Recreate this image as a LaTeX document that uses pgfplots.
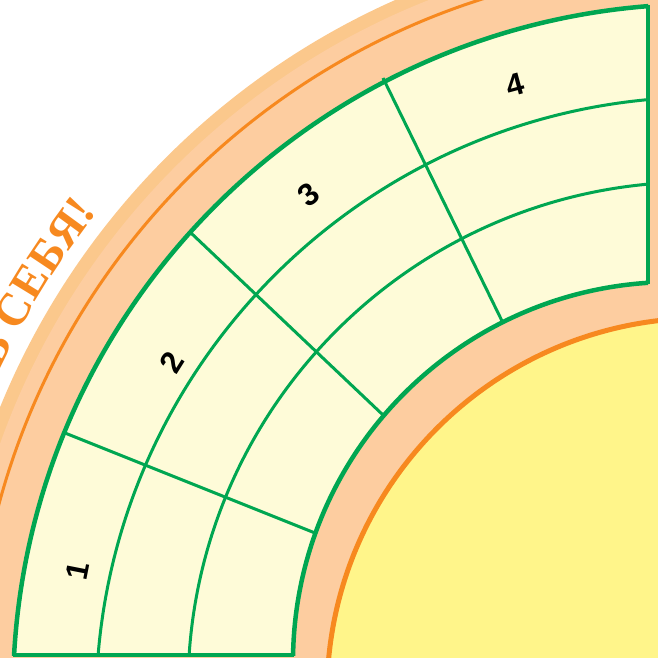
\documentclass[border=0pt]{standalone}
\usepackage{pgfplots}
\pgfplotsset{compat=1.18}
\usepackage{fontspec}
\setmainfont{Liberation Sans}
\newfontfamily\titlefont{Liberation Serif}
\usetikzlibrary{decorations.text}

\definecolor{ringgreen}{HTML}{00A651}
\definecolor{cellfill}{HTML}{FEFBD8}
\definecolor{peach}{HTML}{FDCDA0}
\definecolor{peachdark}{HTML}{FBC88C}
\definecolor{lineorange}{HTML}{F7891F}
\definecolor{sunyellow}{HTML}{FFF58A}

\begin{document}
\begin{tikzpicture}
\begin{axis}[
  width=263.2pt, height=263.2pt, scale only axis,
  xmin=0, xmax=658, ymin=0, ymax=658, y dir=reverse,
  hide axis, clip=true,
]
\coordinate (bl) at (axis cs:0,658);
\coordinate (tr) at (axis cs:658,0);

% background rings (1 px = 0.4pt)
\fill[peachdark] (axis cs:703,694) circle[radius=303.6pt];
\fill[peach] (axis cs:703,694) circle[radius=298.4pt];
\draw[lineorange, line width=1.2pt] (axis cs:703,694) circle[radius=291.6pt];
\fill[sunyellow] (axis cs:703,694) circle[radius=150.4pt];
\draw[lineorange, line width=2pt] (axis cs:703,694) circle[radius=150.4pt];

% cells
\begin{scope}
  \clip (axis cs:-60,-60) rectangle (axis cs:648,655);
  \fill[cellfill, even odd rule] (axis cs:703,694) circle[radius=276pt]
                                 (axis cs:673,662) circle[radius=152pt];
  \draw[ringgreen, line width=1.2pt] (axis cs:705,706) circle[radius=243.6pt];
  \draw[ringgreen, line width=1.2pt] (axis cs:695,689) circle[radius=202.8pt];
\end{scope}

% dividers
\addplot[ringgreen, line width=1.2pt] coordinates {(65,433) (315,533)};
\addplot[ringgreen, line width=1.2pt] coordinates {(191,233) (383,415)};
\addplot[ringgreen, line width=1.2pt] coordinates {(383,78) (503,323)};

% border
\begin{scope}
  \clip (axis cs:-60,-60) rectangle (axis cs:648,655);
  \draw[ringgreen, line width=1.8pt] (axis cs:703,694) circle[radius=276pt];
  \draw[ringgreen, line width=1.8pt] (axis cs:673,662) circle[radius=152pt];
\end{scope}
\addplot[ringgreen, line width=1.8pt, line cap=rect] coordinates {(15,655) (292,655)};
\addplot[ringgreen, line width=1.8pt, line cap=rect] coordinates {(648,7) (648,282)};

% curved title
\path[decorate, decoration={text along path, text align=right,
  text={|\titlefont\bfseries\fontsize{18.5}{20}\selectfont\color{lineorange}|ПОВЕРЬ В СЕБЯ!}}]
  (axis cs:703,694) ++(178:309.6pt) arc[start angle=178, end angle=141.5, radius=309.6pt];

% segment numbers
\addplot[only marks, mark=*, mark size=0pt, mark options={draw=none, fill=none},
  nodes near coords, point meta=explicit symbolic,
  visualization depends on={\thisrow{rot}\as\rot},
  every node near coord/.append style={rotate=\rot, anchor=center, text=black,
    font=\bfseries\fontsize{12.5}{13}\selectfont}]
  table[x=x, y=y, meta=lab] {
x   y   lab rot
78  571 1   78.9
172 362 2   58
309 195 3   38.2
515 85  4   15
};
\end{axis}
\pgfresetboundingbox
\useasboundingbox (bl) rectangle (tr);
\end{tikzpicture}
\end{document}
